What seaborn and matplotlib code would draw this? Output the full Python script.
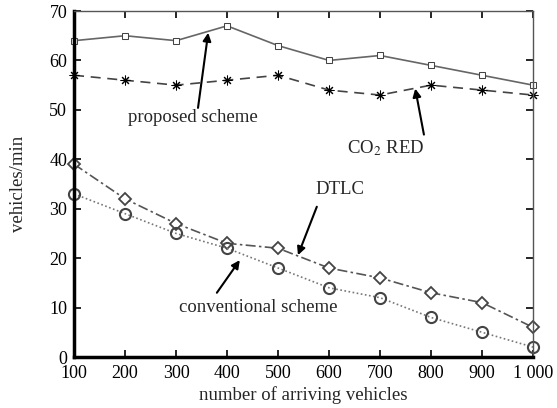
import matplotlib
matplotlib.use("Agg")
import matplotlib.pyplot as plt
import seaborn as sns
import pandas as pd

x_vals = [100, 200, 300, 400, 500, 600, 700, 800, 900, 1000]
x_labels = ["100", "200", "300", "400", "500", "600", "700", "800", "900", "1 000"]
proposed = [64, 65, 64, 67, 63, 60, 61, 59, 57, 55]
co2_red = [57, 56, 55, 56, 57, 54, 53, 55, 54, 53]
dtlc = [39, 32, 27, 23, 22, 18, 16, 13, 11, 6]
conventional = [33, 29, 25, 22, 18, 14, 12, 8, 5, 2]

sns.set_style("ticks")
plt.rcParams['font.family'] = ['Liberation Serif', 'DejaVu Serif']
plt.rcParams['mathtext.fontset'] = 'stix'

fig = plt.figure(figsize=(5.57, 4.08), dpi=100)
ax = fig.add_axes([0.133, 0.125, 0.824, 0.848])

series = [
    ("proposed", proposed, dict(linestyle='-', marker='s', markersize=5, markerfacecolor='white', color='#666666', markeredgecolor='#444444', linewidth=1.2)),
    ("co2", co2_red, dict(linestyle=(0, (6, 4)), marker=(8, 2, 0), markersize=7, color='#444444', markeredgecolor='black', markerfacecolor='black', linewidth=1.2)),
    ("dtlc", dtlc, dict(linestyle=(0, (6, 2, 1.5, 2)), marker='D', markersize=6, markerfacecolor='white', color='#555555', markeredgecolor='#444444', markeredgewidth=1.3, linewidth=1.2)),
    ("conv", conventional, dict(linestyle=(0, (1, 1.5)), marker='o', markersize=8, markerfacecolor='none', color='#777777', markeredgecolor='#444444', markeredgewidth=1.5, linewidth=1.2)),
]
for name, vals, kw in series:
    df = pd.DataFrame({"x": x_vals, "y": vals})
    sns.lineplot(data=df, x="x", y="y", ax=ax, clip_on=False, **kw)

ax.set_xlim(100, 1000)
ax.set_ylim(0, 70)
ax.set_xticks(x_vals)
ax.set_xticklabels(x_labels)
ax.set_yticks(range(0, 71, 10))
ax.tick_params(axis='both', direction='in', top=True, right=True, labelsize=13, length=5, width=1.2, colors='black')
ax.tick_params(axis='x', pad=6)
ax.tick_params(axis='y', pad=5)
for s in ['left', 'bottom']:
    ax.spines[s].set_linewidth(2.5)
    ax.spines[s].set_color('black')
for s in ['top', 'right']:
    ax.spines[s].set_linewidth(1.0)
    ax.spines[s].set_color('#555555')
ax.set_xlabel("number of arriving vehicles", fontsize=13.5, labelpad=3)
ax.set_ylabel("vehicles/min", fontsize=13.5, labelpad=16)

fs = 13.5
aprops = dict(arrowstyle='-|>', color='black', lw=1.5, mutation_scale=12, shrinkA=0, shrinkB=0)
ax.annotate("", xy=(363, 65.6), xytext=(343, 50.4), arrowprops=aprops)
ax.text(333, 48.4, "proposed scheme", ha='center', va='center', fontsize=fs)
ax.annotate("", xy=(769, 54.3), xytext=(786, 45), arrowprops=aprops)
ax.text(710, 42.3, "CO$_2$ RED", ha='center', va='center', fontsize=fs)
ax.annotate("", xy=(539, 20.6), xytext=(576, 30.4), arrowprops=aprops)
ax.text(621, 33.8, "DTLC", ha='center', va='center', fontsize=fs)
ax.annotate("", xy=(425, 19.6), xytext=(380, 13), arrowprops=aprops)
ax.text(461, 10.1, "conventional scheme", ha='center', va='center', fontsize=fs)

fig.savefig("out.png", dpi=100)
